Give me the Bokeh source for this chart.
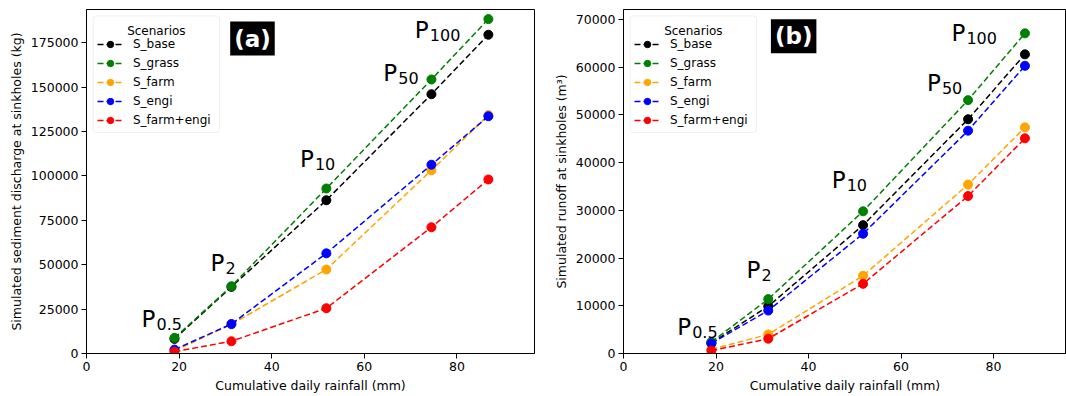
from bokeh.plotting import figure
from bokeh.models import (Range1d, FixedTicker, BasicTickFormatter, Legend, LegendItem, Label,
                          ColumnDataSource, BoxAnnotation)
from bokeh.layouts import row
from bokeh.embed import file_html
from bokeh.resources import INLINE
from bokeh.core.properties import value

# ---------------- data ----------------
rainfall = [19.0, 31.3, 51.8, 74.5, 86.8]          # mm, return periods P0.5 .. P100
period_labels = ["0.5", "2", "10", "50", "100"]
scenarios = ["S_base", "S_grass", "S_farm", "S_engi", "S_farm+engi"]
colors = ["black", "green", "orange", "blue", "red"]

sed_base = [8200, 37500, 86300, 146000, 179500]
sed_grass = [8800, 37900, 92900, 154300, 188300]
sed_farm = [1500, 16400, 47300, 103200, 134200]
sed_engi = [2200, 16600, 56400, 106300, 133600]
sed_farm_engi = [1000, 6900, 25500, 71100, 98000]

run_base = [2200, 9900, 26900, 49100, 62700]
run_grass = [2400, 11400, 29800, 53100, 67100]
run_farm = [900, 4000, 16300, 35400, 47400]
run_engi = [2100, 9000, 25100, 46700, 60300]
run_farm_engi = [600, 3100, 14600, 33000, 45100]

x_ticks = [0, 20, 40, 60, 80]
sed_ticks = [0, 25000, 50000, 75000, 100000, 125000, 150000, 175000]
run_ticks = [0, 10000, 20000, 30000, 40000, 50000, 60000, 70000]

# ---------------- layout (annotation anchors, data units) ----------------
plab_a_x = [11.9, 26.8, 46.1, 64.1, 70.9]
plab_a_y = [19700, 50700, 109800, 157700, 182000]
plab_b_x = [11.6, 26.6, 45.0, 65.6, 70.9]
plab_b_y = [5580, 17500, 36300, 56600, 67100]

FONT = "DejaVu Sans"
FH = 344          # frame height in px
H = 396
MB_TOP = 9


def make_panel(series, yticks, ymax, xmax, ylabel, plab_x, plab_y, tag, tag_left, tag_top,
               fw, mb_left, mb_right):
    width = mb_left + fw + mb_right
    p = figure(width=width, height=H, output_backend="svg", toolbar_location=None,
               x_range=Range1d(0, xmax), y_range=Range1d(0, ymax),
               min_border_left=mb_left, min_border_right=mb_right,
               min_border_top=MB_TOP, min_border_bottom=H - MB_TOP - FH)
    p.grid.visible = False
    p.outline_line_color = "black"
    p.outline_line_width = 1
    p.outline_line_alpha = 1
    p.background_fill_color = "white"
    p.border_fill_color = "white"

    def px2x(px):
        return px / fw * xmax

    def px2y(py):
        return ymax * (FH - py) / FH

    for ax in (p.xaxis[0], p.yaxis[0]):
        ax.axis_line_color = "black"
        ax.major_tick_line_color = "black"
        ax.major_tick_out = 5
        ax.major_tick_in = 0
        ax.minor_tick_line_color = None
        ax.major_label_text_font = FONT
        ax.major_label_text_font_size = "12.5px"
        ax.major_label_text_color = "black"
        ax.major_label_standoff = 3
        ax.axis_label_text_font = FONT
        ax.axis_label_text_font_size = "12.5px"
        ax.axis_label_text_font_style = "normal"
        ax.axis_label_text_color = "black"
        ax.axis_label_standoff = 4
    p.xaxis.ticker = FixedTicker(ticks=x_ticks)
    p.yaxis.ticker = FixedTicker(ticks=yticks)
    p.yaxis.formatter = BasicTickFormatter(use_scientific=False)
    p.xaxis.axis_label = "Cumulative daily rainfall (mm)"
    p.yaxis.axis_label = ylabel

    items = []
    for name, col, vals in zip(scenarios, colors, series):
        src = ColumnDataSource(dict(x=rainfall, y=vals))
        lr = p.line("x", "y", source=src, line_color=col, line_width=1.5, line_dash="6 3")
        sr = p.scatter("x", "y", source=src, size=9, fill_color=col, line_color=col, marker="circle")
        items.append(LegendItem(label=name, renderers=[lr, sr]))

    # legend frame + centred title
    p.add_layout(BoxAnnotation(left=px2x(6.7), right=px2x(133), top=px2y(6.4), bottom=px2y(123),
                               fill_color="white", fill_alpha=0.8, line_color="#cccccc",
                               line_width=1, border_radius=3))
    p.add_layout(Label(x=px2x((6.7 + 133) / 2), y=px2y(21.2), text="Scenarios",
                       text_font=FONT, text_font_size="12px", text_color="black",
                       text_align="center", text_baseline="alphabetic"))
    row_h, gap, n = 16, 3, len(items)
    leg_h = n * row_h + (n - 1) * gap
    leg = Legend(items=items, location=(11, FH - 27.3 - leg_h),
                 margin=0, padding=0, spacing=gap, glyph_width=26, glyph_height=row_h,
                 label_height=row_h, label_standoff=10,
                 label_text_font=FONT, label_text_font_size="12px", label_text_color="black",
                 border_line_alpha=0, background_fill_alpha=0)
    p.add_layout(leg)

    # return-period labels P with subscript
    p.text(plab_x, plab_y, text=["P"] * len(plab_x), text_font=value(FONT),
           text_font_size="23px", text_color="black", text_baseline="alphabetic",
           text_align="left")
    p.text(plab_x, plab_y, text=period_labels, text_font=value(FONT),
           text_font_size="16px", text_color="black", text_baseline="alphabetic",
           text_align="left", x_offset=15, y_offset=5)

    p.add_layout(Label(x=px2x(tag_left + 4), y=px2y(tag_top + 4), text=tag, text_color="white",
                       text_font=FONT, text_font_size="23px", text_font_style="bold",
                       background_fill_color="black", text_align="left",
                       text_baseline="top", padding=4))
    return p


FW_A = 448
FW_B = 443
pa = make_panel([sed_base, sed_grass, sed_farm, sed_engi, sed_farm_engi],
                sed_ticks, 193700, FW_A / 4.63,
                "Simulated sediment discharge at sinkholes (kg)",
                plab_a_x, plab_a_y, "(a)", 139.7, 8.0,
                fw=FW_A, mb_left=86, mb_right=10)
pb = make_panel([run_base, run_grass, run_farm, run_engi, run_farm_engi],
                run_ticks, 72100, FW_B / 4.625,
                "Simulated runoff at sinkholes (m³)",
                plab_b_x, plab_b_y, "(b)", 143.4, 5.7,
                fw=FW_B, mb_left=79, mb_right=0)

layout = row(pa, pb)
open("out.html", "w").write(file_html(layout, INLINE))
